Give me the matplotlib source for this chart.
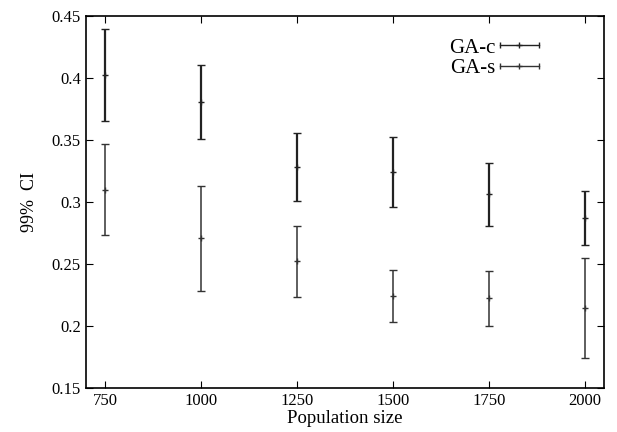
import matplotlib
matplotlib.use("Agg")
import matplotlib.pyplot as plt
from matplotlib.lines import Line2D
from matplotlib.legend_handler import HandlerLine2D, HandlerTuple

plt.rcParams["font.family"] = ["Liberation Serif", "DejaVu Serif"]

pop = [750, 1000, 1250, 1500, 1750, 2000]

gac_mid = [0.402, 0.381, 0.328, 0.324, 0.3065, 0.287]
gac_low = [0.365, 0.351, 0.301, 0.296, 0.281, 0.265]
gac_high = [0.4395, 0.4105, 0.3556, 0.352, 0.3315, 0.309]

gas_mid = [0.310, 0.271, 0.252, 0.224, 0.2226, 0.2145]
gas_low = [0.273, 0.228, 0.223, 0.203, 0.200, 0.174]
gas_high = [0.347, 0.313, 0.281, 0.245, 0.244, 0.255]

fig = plt.figure(figsize=(6.17, 4.32), dpi=100)
ax = fig.add_axes([0.139, 0.102, 0.840, 0.861])

series = [
    ("GA-c", gac_mid, gac_low, gac_high, "#222222", 1.6),
    ("GA-s", gas_mid, gas_low, gas_high, "#333333", 1.1),
]

handles = []
hmap = {tuple: HandlerTuple(ndivide=1, pad=0)}
for label, mid, low, high, color, lw in series:
    err = [[m - l for m, l in zip(mid, low)], [h - m for m, h in zip(mid, high)]]
    ax.errorbar(pop, mid, yerr=err, fmt="+", color=color, ecolor=color,
                elinewidth=lw, capsize=3, capthick=lw, markersize=5,
                markeredgewidth=1.0, linestyle="none")
    caps = Line2D([], [], color=color, lw=1.0, marker="|", markersize=5)
    plus = Line2D([], [], color=color, lw=0, marker="+", markersize=4)
    hmap[caps] = HandlerLine2D(numpoints=2)
    hmap[plus] = HandlerLine2D(numpoints=1)
    handles.append(((caps, plus), label))

ax.legend([h for h, _ in handles], [l for _, l in handles], handler_map=hmap,
          loc="upper right", bbox_to_anchor=(0.915, 0.98), frameon=False,
          markerfirst=False, fontsize=15, handlelength=2.5,
          handletextpad=-0.1, labelspacing=0.05, borderpad=0.2)

ax.set_xlim(700, 2050)
ax.set_ylim(0.15, 0.45)
ax.set_xticks(pop)
ax.set_yticks([0.15, 0.2, 0.25, 0.3, 0.35, 0.4, 0.45])
ax.set_yticklabels(["0.15", "0.2", "0.25", "0.3", "0.35", "0.4", "0.45"])
ax.tick_params(direction="in", top=True, right=True, labelsize=12, length=5)
for s in ax.spines.values():
    s.set_linewidth(1.2)
ax.set_xlabel("Population size", fontsize=13.5, labelpad=1)
ax.set_ylabel("99%  CI", fontsize=13, labelpad=10)

fig.savefig("out.png", dpi=100)
